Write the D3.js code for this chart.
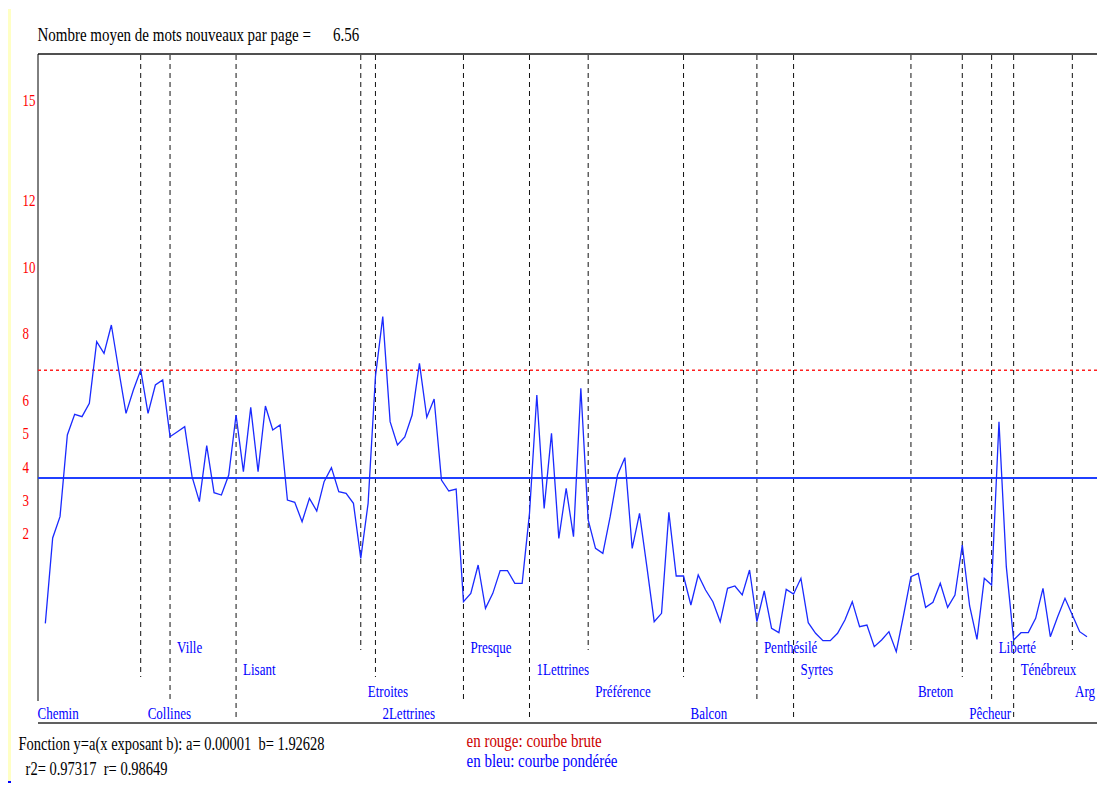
<!DOCTYPE html>
<html>
<head>
<meta charset="utf-8">
<script src="https://cdn.jsdelivr.net/npm/d3@7"></script>
<style>
  body { margin: 0; background: #fff; }
  svg { display: block; font-family: "Liberation Serif", "Times New Roman", serif; }
</style>
</head>
<body>
<svg width="1097" height="811"></svg>
<script>
// courbe pondérée, une valeur par page
const pages = [
  -0.70, 1.86, 2.50, 4.95, 5.57, 5.50, 5.90, 7.75, 7.40, 8.25,
  6.90, 5.60, 6.30, 6.90, 5.60, 6.45, 6.60, 4.90, 5.05, 5.20,
  3.70, 2.95, 4.63, 3.22, 3.15, 3.75, 5.55, 3.85, 5.78, 3.85,
  5.82, 5.10, 5.25, 3.00, 2.93, 2.35, 3.05, 2.67, 3.55, 3.97,
  3.25, 3.20, 2.90, 1.25, 2.90, 6.70, 8.50, 5.35, 4.65, 4.89,
  5.55, 7.10, 5.48, 6.03, 3.60, 3.27, 3.33, -0.05, 0.20, 1.05,
  -0.25, 0.20, 0.88, 0.88, 0.50, 0.50, 2.60, 6.15, 2.75, 5.00,
  1.85, 3.35, 1.90, 6.35, 2.40, 1.55, 1.40, 2.50, 3.75, 4.27,
  1.55, 2.60, 1.00, -0.65, -0.40, 2.63, 0.72, 0.72, -0.15, 0.75,
  0.30, -0.05, -0.65, 0.35, 0.42, 0.15, 0.90, -0.65, 0.27, -0.85,
  -0.98, 0.32, 0.18, 0.65, -0.68, -1.00, -1.22, -1.22, -1.00, -0.60,
  -0.05, -0.80, -0.75, -1.40, -1.20, -0.95, -1.55, -0.45, 0.70, 0.80,
  -0.22, -0.07, 0.50, -0.22, 0.15, 1.65, -0.18, -1.18, 0.65, 0.45,
  5.35, 1.00, -1.20, -0.98, -0.98, -0.55, 0.35, -1.10, -0.50, 0.05,
  -0.45, -0.95, -1.10
]

const sections = ["Chemin", "Collines", "Ville", "Lisant", "Etroites", "2Lettrines",
  "Presque", "1Lettrines", "Préférence", "Balcon", "Penthésilé", "Syrtes",
  "Breton", "Pêcheur", "Liberté", "Ténébreux", "Arg"]
const sectionStarts = [0, 14, 18, 27, 44, 46, 58, 67, 75, 88, 98, 103, 119, 126, 130, 133, 141]

const yTicks = [2, 3, 4, 5, 6, 8, 10, 12, 15]
const seuilBrut = 6.89
const seuilPondere = 3.66
const moyenne = "6.56"
const fonction = ["Fonction y=a(x exposant b): a= 0.00001  b= 1.92628", " r2= 0.97317  r= 0.98649"]

const svg = d3.select("svg")

const x = d3.scaleLinear()
  .domain([0, pages.length])
  .range([38, 1087])

const y = d3.scaleLinear()
  .domain([0, 15])
  .range([600, 100])

// texte un peu étiré en hauteur, comme la police d'origine
const label = function (px, py, str, size, color) {
  return svg.append("text")
    .attr("transform", `translate(${px},${py}) scale(1,1.3)`)
    .attr("dy", "0.35em")
    .style("font-size", size + "px")
    .style("fill", color)
    .text(str)
}

// bande jaune à gauche
svg.append("rect").attr("x", 8).attr("y", 9).attr("width", 3).attr("height", 773).attr("fill", "#ffffc4")
svg.append("rect").attr("x", 8).attr("y", 781).attr("width", 3).attr("height", 2).attr("fill", "#0000ff")

label(37.5, 34, "Nombre moyen de mots nouveaux par page =", 15, "#000")
label(333, 34, moyenne, 15, "#000")

// cadre
svg.append("line").attr("x1", 38).attr("x2", 1097).attr("y1", 54).attr("y2", 54)
  .attr("stroke", "#505050").attr("stroke-width", 2)
svg.append("line").attr("x1", 38).attr("x2", 38).attr("y1", 54).attr("y2", 701)
  .attr("stroke", "#000").attr("stroke-width", 1)
svg.append("line").attr("x1", 38).attr("x2", 1097).attr("y1", 723).attr("y2", 723)
  .attr("stroke", "#606060").attr("stroke-width", 2)

// graduations rouges
yTicks.forEach(t => label(22.5, y(t), t, 13, "#ff0000"))

// séparations des textes
const lineEnds = [677, 700, 720, 650]
const rows = [713, 647, 669, 691]

svg.append("g")
  .selectAll("line")
  .data(sectionStarts.slice(1))
  .join("line")
  .attr("x1", d => x(d)).attr("x2", d => x(d))
  .attr("y1", 55)
  .attr("y2", (d, i) => lineEnds[i % 4])
  .attr("stroke", "#111")
  .attr("stroke-dasharray", "5,4")

sections.forEach((s, i) => {
  let px = i === 0 ? 37.5 : x(sectionStarts[i]) + 7
  const py = i === 0 ? 713 : rows[(i - 1) % 4]
  const t = label(px, py, s, 13, "#0000ff")
  // garder le dernier nom dans la page
  const w = t.node().getComputedTextLength()
  if (px + w > 1095) {
    px = 1095 - w
    t.attr("transform", `translate(${px},${py}) scale(1,1.3)`)
  }
})

// moyennes
svg.append("line").attr("x1", 38).attr("x2", 1097).attr("y1", y(seuilBrut)).attr("y2", y(seuilBrut))
  .attr("stroke", "#ff2020").attr("stroke-width", 1.5).attr("stroke-dasharray", "3,3")
svg.append("line").attr("x1", 38).attr("x2", 1097).attr("y1", y(seuilPondere)).attr("y2", y(seuilPondere))
  .attr("stroke", "#2040ff").attr("stroke-width", 2)

// la courbe
const lineGen = d3.line()
  .x((d, i) => x(i + 1))
  .y(d => y(d))

svg.append("path")
  .datum(pages)
  .attr("d", lineGen)
  .attr("fill", "none")
  .attr("stroke", "#1a2aff")
  .attr("stroke-width", 1.3)

// légende du bas
label(18.5, 743, fonction[0], 14.5, "#000").attr("xml:space", "preserve").style("white-space", "pre")
label(22, 768, fonction[1], 14.5, "#000").attr("xml:space", "preserve").style("white-space", "pre")
label(466.5, 740, "en rouge: courbe brute", 15, "#cc0000")
label(466.5, 760, "en bleu: courbe pondérée", 15, "#0000ff")
</script>
</body>
</html>
